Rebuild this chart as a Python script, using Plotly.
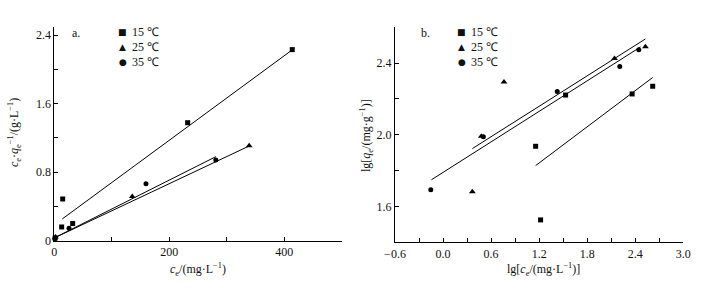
import plotly.graph_objects as go

# ---------------- data ----------------
series_names = ["15 ℃", "25 ℃", "35 ℃"]
symbols = ["square", "triangle-up", "circle"]

# Panel a: ce vs ce/qe
a_x_15 = [1.5, 12.8, 14.6, 32.0, 232.0, 414.0]
a_y_15 = [0.03, 0.158, 0.485, 0.198, 1.376, 2.23]
a_x_25 = [2.0, 135.7, 339.0]
a_y_25 = [0.04, 0.515, 1.108]
a_x_35 = [1.0, 25.6, 159.5, 281.0]
a_y_35 = [0.02, 0.143, 0.663, 0.94]
a_fit_slope = [0.004937, 0.003168, 0.003378]
a_fit_intercept = [0.1834, 0.030, 0.030]
a_fit_xstart = [13.9, 0.0, 0.0]
a_fit_xend = [414.6, 340.3, 281.2]

# Panel b: lg ce vs lg qe
b_x_15 = [1.156, 1.218, 1.530, 2.361, 2.618]
b_y_15 = [1.936, 1.525, 2.222, 2.228, 2.271]
b_x_25 = [0.366, 0.478, 0.761, 2.141, 2.527]
b_y_25 = [1.682, 1.992, 2.295, 2.426, 2.491]
b_x_35 = [-0.153, 0.503, 1.426, 2.207, 2.444]
b_y_35 = [1.693, 1.989, 2.241, 2.381, 2.475]
b_fit_slope = [0.3365, 0.2832, 0.2839]
b_fit_intercept = [1.4390, 1.8194, 1.7902]
b_fit_xstart = [1.156, 0.366, -0.145]
b_fit_xend = [2.618, 2.527, 2.465]

# ---------------- figure ----------------
W, H = 714, 288
FONT = "Liberation Serif, Times New Roman, serif"
fig = go.Figure()

a_pts = [(a_x_15, a_y_15), (a_x_25, a_y_25), (a_x_35, a_y_35)]
b_pts = [(b_x_15, b_y_15), (b_x_25, b_y_25), (b_x_35, b_y_35)]
msize = [5, 6, 5]

for i in range(3):
    xs = [a_fit_xstart[i], a_fit_xend[i]]
    fig.add_trace(go.Scatter(x=xs, y=[a_fit_intercept[i] + a_fit_slope[i] * v for v in xs],
                             mode="lines", line=dict(color="black", width=1),
                             xaxis="x", yaxis="y", showlegend=False, hoverinfo="skip"))
    xs = [b_fit_xstart[i], b_fit_xend[i]]
    fig.add_trace(go.Scatter(x=xs, y=[b_fit_intercept[i] + b_fit_slope[i] * v for v in xs],
                             mode="lines", line=dict(color="black", width=1),
                             xaxis="x2", yaxis="y2", showlegend=False, hoverinfo="skip"))

for i in range(3):
    fig.add_trace(go.Scatter(x=a_pts[i][0], y=a_pts[i][1], mode="markers", name=series_names[i],
                             marker=dict(symbol=symbols[i], size=msize[i], color="black"),
                             xaxis="x", yaxis="y", showlegend=False, cliponaxis=False))
    fig.add_trace(go.Scatter(x=b_pts[i][0], y=b_pts[i][1], mode="markers", name=series_names[i],
                             marker=dict(symbol=symbols[i], size=msize[i], color="black"),
                             xaxis="x2", yaxis="y2", showlegend=False, cliponaxis=False))

def px_x(p):
    return p / W

def px_y(p):
    return 1 - p / H

minor_common = dict(ticks="inside", ticklen=4, tickwidth=1, tickcolor="black", showgrid=False)
axis_common = dict(showgrid=False, zeroline=False, showline=True, linecolor="black", linewidth=1,
                   ticks="inside", ticklen=4, tickwidth=1, tickcolor="black",
                   tickfont=dict(family=FONT, size=12, color="#111"), automargin=False,
                   tickmode="linear")

fig.update_layout(
    width=W, height=H, margin=dict(l=0, r=0, t=0, b=0),
    paper_bgcolor="white", plot_bgcolor="white", showlegend=False,
    font=dict(family=FONT, size=12, color="#111"),
    xaxis=dict(axis_common, domain=[px_x(54.3), px_x(341.7)], range=[0, 500],
               tick0=0, dtick=200, minor=dict(minor_common, dtick=100), anchor="y"),
    yaxis=dict(axis_common, domain=[px_y(240.5), px_y(26.5)], range=[0, 2.5],
               tick0=0, dtick=0.8, minor=dict(minor_common, dtick=0.4), anchor="x"),
    xaxis2=dict(axis_common, domain=[px_x(395), px_x(683.3)], range=[-0.6, 3.0],
                tick0=-0.6, dtick=0.6, minor=dict(minor_common, dtick=0.3, tick0=-0.6),
                tickformat=".1f", anchor="y2"),
    yaxis2=dict(axis_common, domain=[px_y(242.3), px_y(27.3)], range=[1.4, 2.6],
                tick0=1.6, dtick=0.4, minor=dict(minor_common, dtick=0.2, tick0=1.4),
                tickformat=".1f", anchor="x2"),
)

ann = []
def add_text(x, y, text, xanchor="center", angle=0, size=12, family=FONT):
    ann.append(dict(x=px_x(x), y=px_y(y), xref="paper", yref="paper", text=text,
                    showarrow=False, xanchor=xanchor, yanchor="middle", textangle=angle,
                    font=dict(family=family, size=size, color="#111")))

# panel labels
add_text(70, 32.5, "a.", xanchor="left")
add_text(419, 32.5, "b.", xanchor="left")

# legends
glyphs = ["■", "▲", "●"]
leg_y = [32.3, 46.7, 62.3]
for i in range(3):
    add_text(122.7, leg_y[i], glyphs[i], size=9, family="DejaVu Sans")
    add_text(129.5, leg_y[i], series_names[i], xanchor="left")
    add_text(461.7, leg_y[i], glyphs[i], size=9, family="DejaVu Sans")
    add_text(469.0, leg_y[i], series_names[i], xanchor="left")

# axis titles
add_text(198, 269, "<i>c</i><sub>e</sub>/(mg·L<sup>−1</sup>)")
add_text(543, 269, "lg[<i>c</i><sub>e</sub>/(mg·L<sup>−1</sup>)]")
add_text(14, 133, "<i>c</i><sub>e</sub>·<i>q</i><sub>e</sub><sup>−1</sup>/(g·L<sup>−1</sup>)", angle=-90)
add_text(366, 135, "lg[<i>q</i><sub>e</sub>/(mg·g<sup>−1</sup>)]", angle=-90)

fig.update_layout(annotations=ann)
fig.write_html("out.html", config={"displayModeBar": False},
               post_script="document.body.style.margin='0';")
